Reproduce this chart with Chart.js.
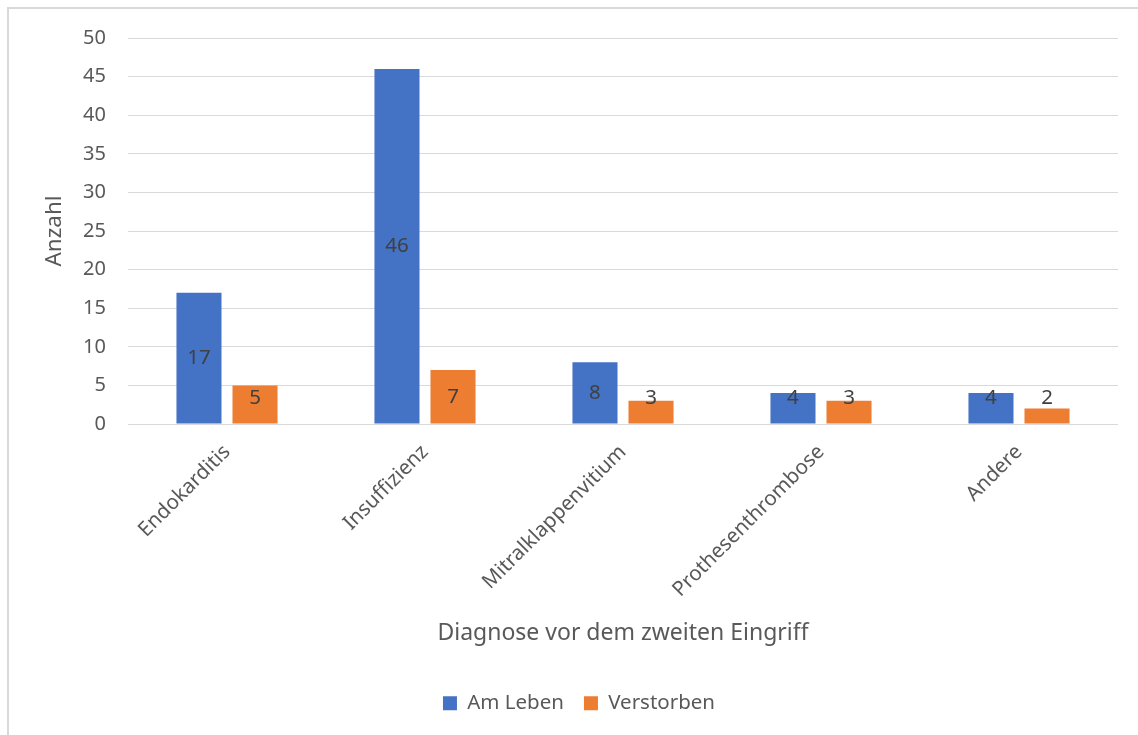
<!DOCTYPE html>
<html>
<head>
<meta charset="utf-8">
<script src="https://cdn.jsdelivr.net/npm/chart.js@4.4.0/dist/chart.umd.min.js"></script>
<style>
  html, body { margin: 0; padding: 0; background: #fff; overflow: hidden; }
  #frame {
    position: absolute; left: 7px; top: 7px;
    width: 1200px; height: 800px;
    border: 2px solid #d9d9d9;
  }
  #wrap { position: absolute; left: 0; top: 0; width: 1138px; height: 735px; }
</style>
</head>
<body>
<div id="frame"></div>
<div id="wrap"><canvas id="myChart"></canvas></div>
<script>
const categories = ['Endokarditis', 'Insuffizienz', 'Mitralklappenvitium', 'Prothesenthrombose', 'Andere'];
const amLeben = [17, 46, 8, 4, 4];
const verstorben = [5, 7, 3, 3, 2];
const yTicks = [0, 5, 10, 15, 20, 25, 30, 35, 40, 45, 50];

const FONT = "'Noto Sans', 'Open Sans', sans-serif";

// value labels in the middle of each bar, lifted a bit for short bars
const barLabels = {
    id: 'barLabels',
    afterDatasetsDraw(chart) {
        const ctx = chart.ctx;
        ctx.save();
        ctx.font = '20.5px ' + FONT;
        ctx.fillStyle = '#404040';
        ctx.textAlign = 'center';
        ctx.textBaseline = 'middle';
        chart.data.datasets.forEach((ds, i) => {
            chart.getDatasetMeta(i).data.forEach((bar, j) => {
                const mid = (bar.y + bar.base) / 2;
                const y = Math.min(mid, bar.base - 25);
                ctx.fillText(String(ds.data[j]), bar.x, y);
            });
        });
        ctx.restore();
    }
};

const ctx = document.getElementById('myChart').getContext('2d');
new Chart(ctx, {
    type: 'bar',
    data: {
        labels: categories,
        datasets: [{
            label: 'Am Leben',
            data: amLeben,
            backgroundColor: '#4472C4'
        }, {
            label: 'Verstorben',
            data: verstorben,
            backgroundColor: '#ED7D31'
        }]
    },
    options: {
        responsive: true,
        maintainAspectRatio: false,
        animation: false,
        datasets: {
            bar: { categoryPercentage: 0.566, barPercentage: 0.804 }
        },
        layout: { padding: { top: 38, left: 40, right: 20, bottom: 11.5 } },
        plugins: {
            tooltip: { enabled: false },
            legend: {
                position: 'bottom',
                labels: {
                    color: '#595959',
                    font: { family: FONT, size: 20.5 },
                    boxWidth: 14,
                    boxHeight: 14,
                    padding: 20
                }
            }
        },
        scales: {
            x: {
                grid: { display: false },
                border: { display: false },
                ticks: {
                    color: '#595959',
                    font: { family: FONT, size: 20.5 },
                    minRotation: 45,
                    maxRotation: 45,
                    padding: 8
                },
                title: {
                    display: true,
                    text: 'Diagnose vor dem zweiten Eingriff',
                    color: '#595959',
                    font: { family: FONT, size: 23 },
                    padding: { top: 0, bottom: 26 }
                },
                afterFit(s) { s.height = 249; }
            },
            y: {
                min: 0,
                max: 50,
                afterBuildTicks(s) { s.ticks = yTicks.map(v => ({ value: v })); },
                grid: { color: '#d9d9d9', lineWidth: 1, drawTicks: false },
                border: { display: false },
                ticks: {
                    color: '#595959',
                    font: { family: FONT, size: 20 },
                    padding: 22
                },
                title: {
                    display: true,
                    text: 'Anzahl',
                    color: '#595959',
                    font: { family: FONT, size: 22.5 },
                    padding: { top: 1.5, bottom: 0 }
                },
                afterFit(s) { s.width = 88; }
            }
        }
    },
    plugins: [barLabels]
});
</script>
</body>
</html>
